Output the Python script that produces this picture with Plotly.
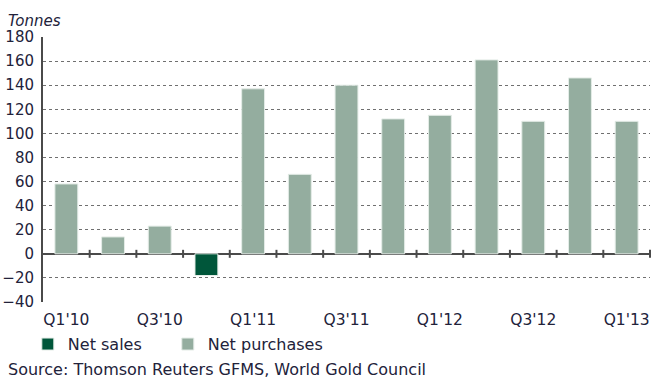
import plotly.graph_objects as go

# Central bank gold net purchases/sales by quarter, tonnes
quarters = ["Q1'10", "Q2'10", "Q3'10", "Q4'10",
            "Q1'11", "Q2'11", "Q3'11", "Q4'11",
            "Q1'12", "Q2'12", "Q3'12", "Q4'12", "Q1'13"]
tonnes = [58, 14, 23, -18, 137, 66, 140, 112, 115, 161, 110, 146, 110]
label_quarters = quarters[::2]
y_ticks = list(range(-40, 181, 20))

GREEN_DARK = "#00563a"
GREEN_LIGHT = "#94ad9f"
AXIS = "#4a4a4a"
TEXT = "#22223a"
FONT = "DejaVu Sans"

sales = [v if v < 0 else None for v in tonnes]
purchases = [v if v >= 0 else None for v in tonnes]

fig = go.Figure()
fig.add_trace(go.Bar(x=quarters, y=sales, name="Net sales", width=0.49,
                     legend="legend",
                     marker=dict(color=GREEN_DARK, line=dict(color="#e4ece7", width=1))))
fig.add_trace(go.Bar(x=quarters, y=purchases, name="Net purchases", width=0.49,
                     legend="legend2",
                     marker=dict(color=GREEN_LIGHT, line=dict(color="#e4ece7", width=1))))

# small tick marks across the zero line at each quarter boundary
for i in range(len(quarters) - 1):
    fig.add_shape(type="line", xref="x", yref="y", x0=i + 0.5, x1=i + 0.5,
                  ysizemode="pixel", yanchor=0, y0=-4, y1=4,
                  line=dict(color=AXIS, width=2), layer="above")
fig.add_shape(type="line", xref="paper", yref="y", x0=1, x1=1,
              ysizemode="pixel", yanchor=0, y0=-4, y1=4,
              line=dict(color=AXIS, width=2), layer="above")

legend_style = dict(orientation="h", xanchor="left", y=-0.159, yanchor="middle",
                    font=dict(family=FONT, size=16, color=TEXT),
                    bgcolor="rgba(0,0,0,0)", itemclick=False)

fig.update_layout(
    width=652, height=380,
    margin=dict(l=43, r=2, t=37, b=78),
    paper_bgcolor="white", plot_bgcolor="white",
    barmode="relative",
    font=dict(family=FONT, size=14, color=TEXT),
    showlegend=True,
    legend=dict(x=-0.025, **legend_style),
    legend2=dict(x=0.2056, **legend_style),
    xaxis=dict(type="category", tickmode="array", tickvals=label_quarters,
               ticktext=label_quarters, ticks="", showgrid=False,
               showline=False, zeroline=False, ticklabelstandoff=6,
               tickfont=dict(family=FONT, size=15.5, color=TEXT)),
    yaxis=dict(range=[-40, 180], tickmode="array", tickvals=y_ticks,
               showgrid=True, gridcolor="#707070", griddash="dot", gridwidth=1,
               zeroline=True, zerolinecolor=AXIS, zerolinewidth=2,
               showline=True, linecolor=AXIS, linewidth=2, ticks="",
               ticklabelstandoff=4,
               tickfont=dict(family=FONT, size=15, color=TEXT)),
    annotations=[
        dict(text="<i>Tonnes</i>", xref="paper", yref="paper", x=0, y=1,
             xanchor="left", yanchor="middle", xshift=-37, yshift=16,
             showarrow=False, font=dict(family=FONT, size=15, color=TEXT)),
        dict(text="Source: Thomson Reuters GFMS, World Gold Council",
             xref="paper", yref="paper", x=0, y=0,
             xanchor="left", yanchor="middle", xshift=-37, yshift=-67,
             showarrow=False, font=dict(family=FONT, size=16, color=TEXT)),
    ],
)

fig.write_html("out.html")
